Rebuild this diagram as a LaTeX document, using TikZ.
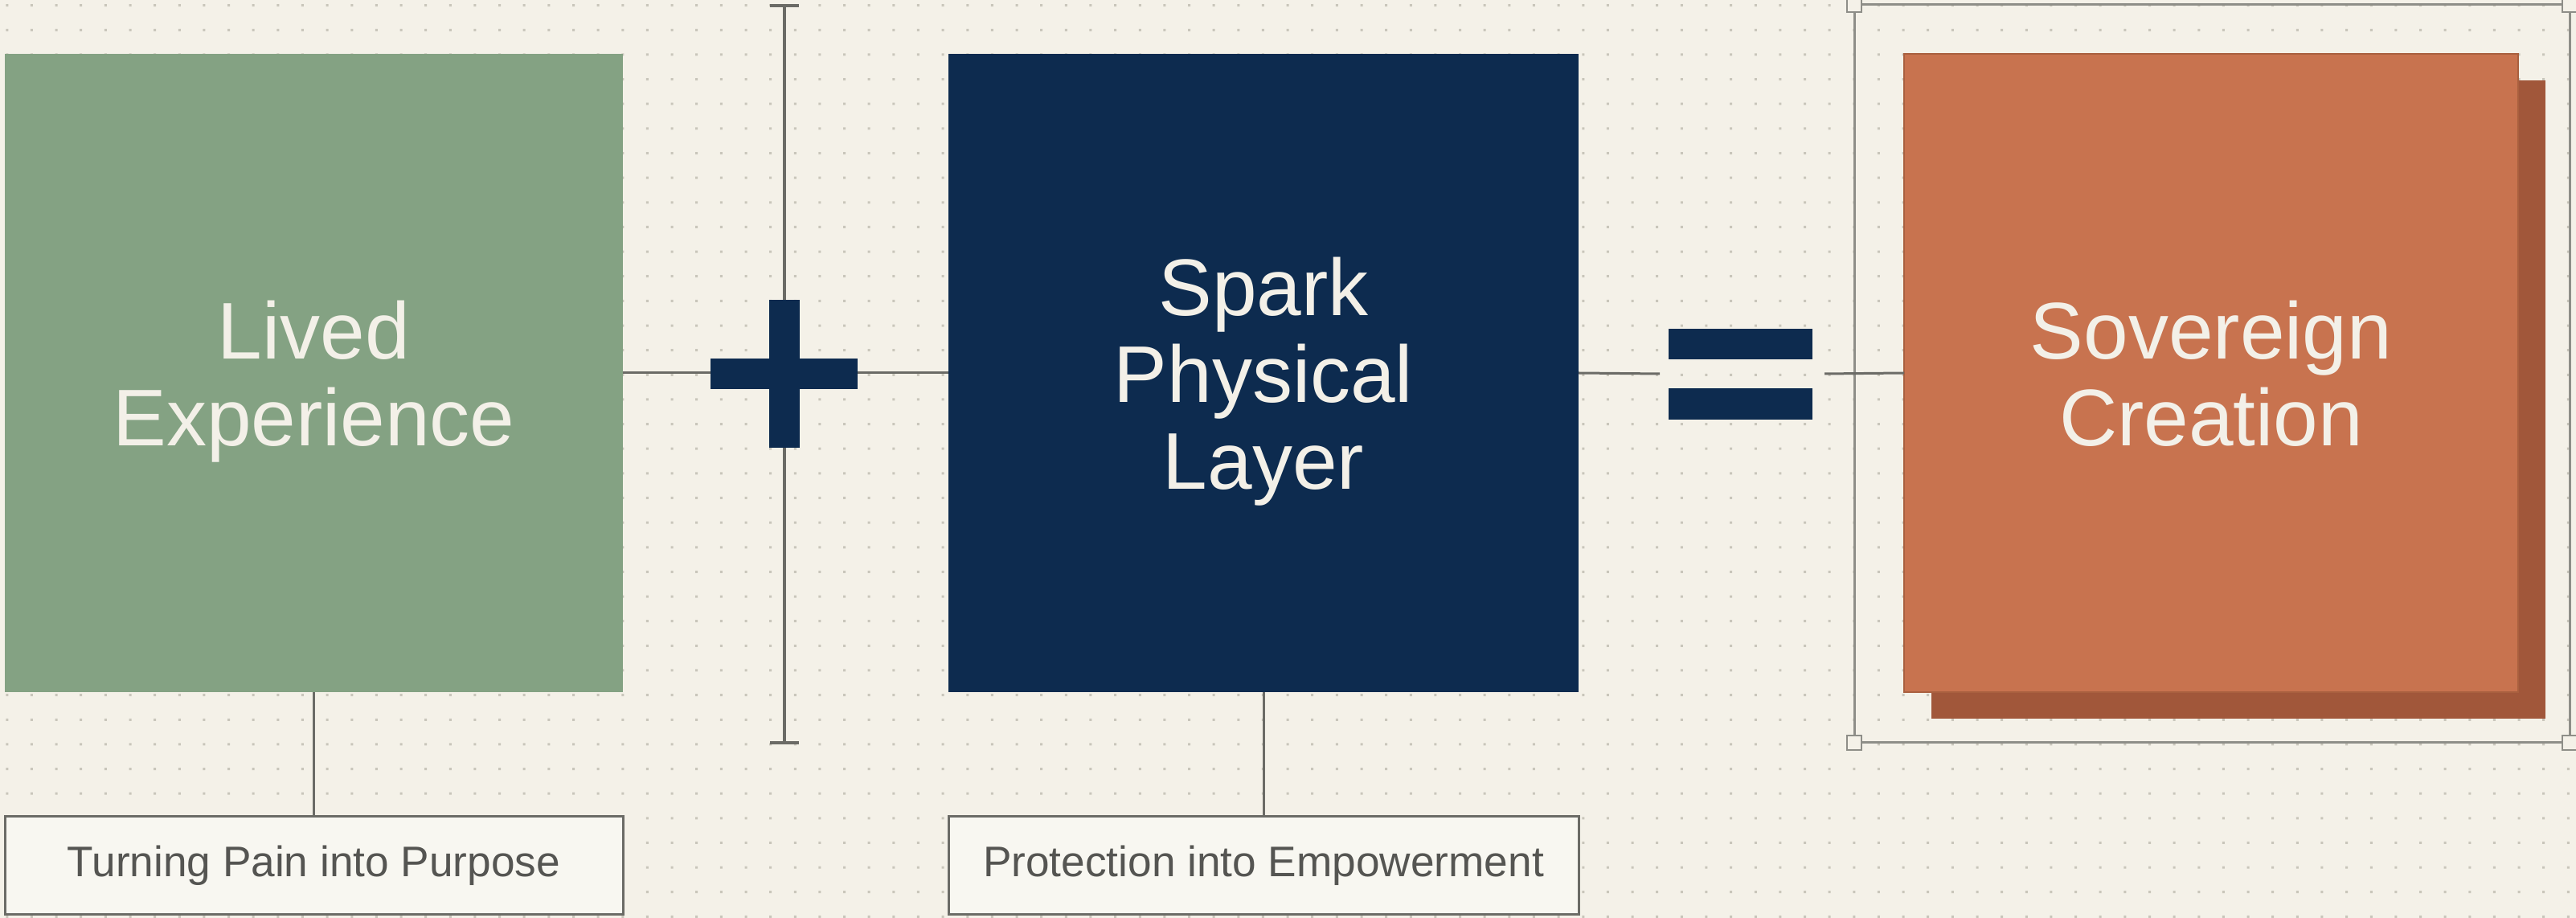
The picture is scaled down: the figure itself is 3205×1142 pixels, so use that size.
\documentclass[tikz,border=0pt]{standalone}
\usepackage{fontspec}
\setmainfont{Liberation Sans}
\definecolor{bgc}{HTML}{F4F1E8}
\definecolor{dotc}{HTML}{C9C6BB}
\definecolor{sage}{HTML}{84A283}
\definecolor{navy}{HTML}{0D2B4F}
\definecolor{terra}{HTML}{C8734F}
\definecolor{terradark}{HTML}{A1573A}
\definecolor{terraedge}{HTML}{A9603F}
\definecolor{linec}{HTML}{6B6B66}
\definecolor{framec}{HTML}{8E8E88}
\definecolor{wtext}{HTML}{F3F0E8}
\definecolor{ltext}{HTML}{555552}
\tikzset{
  px/.style={x=0.25pt,y=-0.25pt},
  bigbox/.style={inner sep=0pt,outer sep=0pt,minimum height=198.5pt,text depth=0pt,
    text=wtext,align=center,font=\fontsize{25}{27}\selectfont},
  labbox/.style={draw=linec,line width=0.75pt,fill=bgc!60!white,inner sep=0pt,outer sep=0pt,
    minimum height=30.5pt,text=ltext,font=\fontsize{13.3}{15}\selectfont},
  conn/.style={draw=linec,line width=0.75pt},
  handle/.style={draw=framec,line width=0.7pt,fill=bgc,minimum size=4.5pt,inner sep=0pt,outer sep=0pt},
}
\begin{document}
\begin{tikzpicture}[px]
\useasboundingbox (0,0) rectangle (3205,1142);
\fill[bgc] (0,0) rectangle (3205,1142);
% dot grid
\foreach \i in {0,...,104} {
  \fill[dotc] \foreach \j in {0,...,37} { ({7.3+\i*30.64},{5.2+\j*30.64}) rectangle ++(3,3) };
}

% frame around result
\coordinate (fTL) at (2307,6);
\coordinate (fTR) at (3197,6);
\coordinate (fBL) at (2307,924);
\coordinate (fBR) at (3197,924);
\draw[framec,line width=0.75pt] (fTL) rectangle (fBR);

% connectors
\coordinate (eqL) at (2065,465);
\coordinate (eqR) at (2270,465);
\coordinate (vtop) at (976,7);
\coordinate (vbot) at (976,924);

% boxes
\node[bigbox,fill=sage,minimum width=192.25pt] (lived) at (390.5,464) {Lived\\Experience};
\node[bigbox,fill=navy,minimum width=196pt] (spark) at (1572,464) {Spark\\Physical\\Layer};
\node[inner sep=0pt,outer sep=0pt,minimum width=191pt,minimum height=198.5pt,fill=terradark] (shadow) at (2785,497) {};
\node[bigbox,fill=terra,draw=terraedge,line width=0.5pt,minimum width=191pt] (sov) at (2751,464) {Sovereign\\Creation};

\node[labbox,minimum width=192.25pt] (lab1) at (390.5,1077) {Turning Pain into Purpose};
\node[labbox,minimum width=196pt] (lab2) at (1572,1077) {Protection into Empowerment};

\draw[conn] (lived.east) -- (spark.west);
\draw[conn] (spark.east) -- (eqL);
\draw[conn] (eqR) -- (sov.west);
\draw[conn] (lived.south) -- (lab1.north);
\draw[conn] (spark.south) -- (lab2.north);
\draw[conn,line width=1pt] (vtop) -- (vbot);
\draw[conn,line width=1.1pt] ([xshift=-4.5pt]vtop) -- ([xshift=4.5pt]vtop);
\draw[conn,line width=1.1pt] ([xshift=-4.5pt]vbot) -- ([xshift=4.5pt]vbot);

% plus sign
\coordinate (plus) at (976,465);
\fill[navy] ([shift={(-92,-19)}]plus) rectangle ([shift={(91,19)}]plus);
\fill[navy] ([shift={(-19,-92)}]plus) rectangle ([shift={(19,92)}]plus);

% equals sign
\coordinate (eq) at (2165.5,465.5);
\fill[navy] ([shift={(-89.5,-56.5)}]eq) rectangle ([shift={(89.5,-18.5)}]eq);
\fill[navy] ([shift={(-89.5,17.5)}]eq) rectangle ([shift={(89.5,56.5)}]eq);

% handles
\foreach \c in {fTL,fTR,fBL,fBR} { \node[handle] at (\c) {}; }
\end{tikzpicture}
\end{document}
